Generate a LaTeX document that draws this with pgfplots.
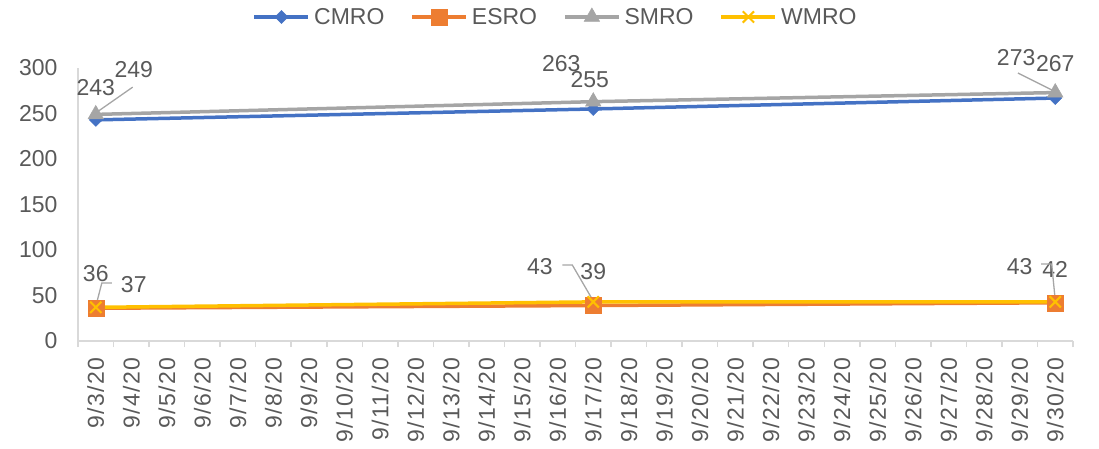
\documentclass[border=0pt]{standalone}
\usepackage{fontspec}
\setmainfont{Liberation Sans}
\newfontfamily\xlabfont[LetterSpace=6]{Liberation Sans}
\usepackage{pgfplots}
\pgfplotsset{compat=1.18}
\definecolor{cCM}{HTML}{4472C4}
\definecolor{cES}{HTML}{ED7D31}
\definecolor{cSM}{HTML}{A5A5A5}
\definecolor{cWM}{HTML}{FFC000}
\definecolor{txt}{HTML}{595959}
\definecolor{axg}{HTML}{D9D9D9}
\definecolor{ldr}{HTML}{A6A6A6}
\begin{document}
\begin{tikzpicture}[lbl/.style={font=\fontsize{23}{23}\selectfont, text=txt, inner sep=0pt},
  leader/.style={draw=ldr, line width=1.3pt}]
\begin{axis}[
  at={(0,0)}, anchor=south west,
  scale only axis, width=995pt, height=273pt,
  xmin=-0.5, xmax=27.5, ymin=0, ymax=300,
  clip=false,
  axis lines=left,
  axis line style={-, draw=axg, line width=1.5pt},
  ytick={0,50,...,300},
  xtick={0,...,27},
  xticklabels={9/3/20,9/4/20,9/5/20,9/6/20,9/7/20,9/8/20,9/9/20,9/10/20,9/11/20,9/12/20,9/13/20,9/14/20,9/15/20,9/16/20,9/17/20,9/18/20,9/19/20,9/20/20,9/21/20,9/22/20,9/23/20,9/24/20,9/25/20,9/26/20,9/27/20,9/28/20,9/29/20,9/30/20},
  minor xtick={-0.5,0.5,...,27.5},
  major tick length=0pt, minor tick length=6pt,
  tick align=outside,
  minor tick style={draw=axg, line width=1.5pt},
  /pgf/number format/assume math mode=true,
  tick label style={font=\fontsize{23}{23}\selectfont, text=txt},
  yticklabel style={xshift=-17pt},
  xticklabel style={rotate=90, anchor=east, xshift=-13pt, font=\xlabfont\fontsize{23}{23}\selectfont},
  legend style={at={(0.48,1.187)}, anchor=center, draw=none, fill=none,
    font=\fontsize{23}{23}\selectfont, text=txt,
    /tikz/every even column/.append style={column sep=24pt},
    /tikz/every odd column/.append style={column sep=2pt}},
  legend columns=4,
  legend image code/.code={\draw[mark repeat=2,mark phase=2,#1] plot coordinates {(0pt,0pt)(27pt,0pt)(54pt,0pt)};},
]
\addplot[cCM, line width=3.5pt, mark=square*, mark size=4.6pt, mark options={rotate=45, solid, line width=0.5pt}] coordinates {(0,243) (14,255) (27,267)};
\addlegendentry{CMRO}
\addplot[cES, line width=3.5pt, mark=square*, mark size=8pt, mark options={solid, line width=0.5pt}] coordinates {(0,36) (14,39) (27,42)};
\addlegendentry{ESRO}
\addplot[cSM, line width=3.5pt, mark=triangle*, mark size=9pt, mark options={solid, line width=0.5pt}] coordinates {(0,249) (14,263) (27,273)};
\addlegendentry{SMRO}
\addplot[cWM, line width=3.5pt, mark=x, mark size=8pt, mark options={solid, line width=2pt}] coordinates {(0,37) (14,43) (27,43)};
\addlegendentry{WMRO}
% data labels
\node[lbl] at (axis cs:0,279) {243};
\node[lbl] at (axis cs:1.07,298) {249};
\draw[leader] (axis cs:1.04,279) -- (axis cs:0.05,252);
\node[lbl] at (axis cs:13.1,305) {263};
\node[lbl] at (axis cs:13.9,287) {255};
\node[lbl] at (axis cs:25.9,312) {273};
\node[lbl] at (axis cs:27.0,305) {267};
\draw[leader] (axis cs:25.95,294.5) -- (axis cs:26.95,275);
\node[lbl] at (axis cs:0,73.6) {36};
\node[lbl] at (axis cs:1.07,61.5) {37};
\draw[leader] (axis cs:0.45,63.7) -- (axis cs:0.17,63.7) -- (axis cs:0,38);
\node[lbl] at (axis cs:12.5,82) {43};
\node[lbl] at (axis cs:14.0,75.8) {39};
\draw[leader] (axis cs:13.13,83.5) -- (axis cs:13.41,83.5) -- (axis cs:14,44);
\node[lbl] at (axis cs:26.0,82) {43};
\node[lbl] at (axis cs:27.0,79) {42};
\draw[leader] (axis cs:26.6,84.6) -- (axis cs:26.9,84.6) -- (axis cs:27,45);
\end{axis}
\pgfresetboundingbox
\path[use as bounding box] (-78pt,-107pt) rectangle (1021pt,341pt);
\end{tikzpicture}
\end{document}
